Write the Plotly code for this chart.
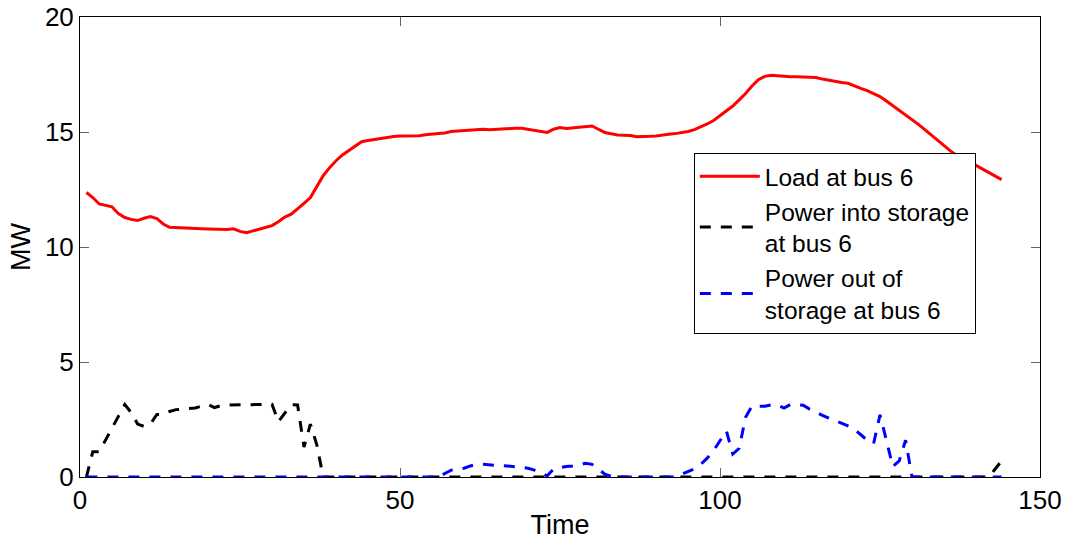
import plotly.graph_objects as go

time = list(range(1, 145))

load_bus6 = [
    12.37, 12.15, 11.87, 11.80, 11.75, 11.45, 11.28, 11.20, 11.15, 11.25,
    11.32, 11.24, 11.00, 10.86, 10.84, 10.82, 10.81, 10.80, 10.79, 10.78,
    10.77, 10.76, 10.76, 10.79, 10.68, 10.62, 10.70, 10.75, 10.83, 10.93,
    11.10, 11.30, 11.43, 11.65, 11.90, 12.15, 12.60, 13.10, 13.45, 13.75,
    14.00, 14.20, 14.40, 14.58, 14.63, 14.68, 14.72, 14.76, 14.80, 14.83,
    14.83, 14.83, 14.84, 14.88, 14.92, 14.93, 14.96, 15.02, 15.04, 15.06,
    15.08, 15.12, 15.12, 15.10, 15.12, 15.15, 15.16, 15.16, 15.16, 15.12,
    15.06, 15.02, 14.98, 15.12, 15.19, 15.15, 15.18, 15.22, 15.24, 15.26,
    15.12, 14.98, 14.92, 14.87, 14.86, 14.85, 14.79, 14.79, 14.81, 14.83,
    14.85, 14.90, 14.93, 14.97, 15.02, 15.10, 15.22, 15.35, 15.50, 15.70,
    15.90, 16.13, 16.40, 16.67, 17.00, 17.27, 17.42, 17.47, 17.45, 17.41,
    17.40, 17.40, 17.40, 17.40, 17.37, 17.30, 17.24, 17.20, 17.15, 17.12,
    17.00, 16.90, 16.80, 16.67, 16.54, 16.35, 16.15, 15.95, 15.75, 15.55,
    15.33, 15.10, 14.86, 14.64, 14.42, 14.18, 13.98, 13.85, 13.70, 13.55,
    13.40, 13.25, 13.08, 12.93,
]

power_into_storage = [
    0.00, 1.10, 1.10, 1.60, 2.10, 2.65, 3.15, 2.80, 2.30, 2.20,
    2.30, 2.72, 2.72, 2.85, 2.93, 2.95, 2.98, 3.00, 3.08, 3.15,
    3.02, 3.10, 3.13, 3.13, 3.13, 3.13, 3.13, 3.13, 3.13, 3.16,
    2.40, 2.80, 3.15, 3.13, 1.30, 2.30, 1.40, 0.00, 0.00, 0.00,
    0, 0, 0, 0, 0, 0, 0, 0, 0, 0,
    0, 0, 0, 0, 0, 0, 0, 0, 0, 0,
    0, 0, 0, 0, 0, 0, 0, 0, 0, 0,
    0, 0, 0, 0, 0, 0, 0, 0, 0, 0,
    0, 0, 0, 0, 0, 0, 0, 0, 0, 0,
    0, 0, 0, 0, 0, 0, 0, 0, 0, 0,
    0, 0, 0, 0, 0, 0, 0, 0, 0, 0,
    0, 0, 0, 0, 0, 0, 0, 0, 0, 0,
    0, 0, 0, 0, 0, 0, 0, 0, 0, 0,
    0, 0, 0, 0, 0, 0, 0, 0, 0, 0,
    0, 0, 0.35, 0.70,
]

power_out_of_storage = [
    0, 0, 0, 0, 0, 0, 0, 0, 0, 0,
    0, 0, 0, 0, 0, 0, 0, 0, 0, 0,
    0, 0, 0, 0, 0, 0, 0, 0, 0, 0,
    0, 0, 0, 0, 0, 0, 0, 0, 0, 0,
    0, 0, 0, 0, 0, 0, 0, 0, 0, 0,
    0, 0, 0, 0, 0, 0, 0.15, 0.30, 0.33, 0.38,
    0.48, 0.55, 0.55, 0.52, 0.50, 0.50, 0.48, 0.46, 0.42, 0.38,
    0.30, 0.18, 0.05, 0.35, 0.42, 0.46, 0.48, 0.52, 0.60, 0.55,
    0.35, 0.12, 0.03, 0, 0, 0, 0, 0, 0, 0,
    0, 0, 0, 0.12, 0.22, 0.35, 0.55, 0.82, 1.15, 1.55,
    2.00, 1.00, 1.25, 2.60, 3.08, 3.08, 3.08, 3.14, 3.12, 3.00,
    3.15, 3.14, 3.12, 2.95, 2.80, 2.68, 2.56, 2.45, 2.34, 2.22,
    2.08, 1.85, 1.60, 1.45, 2.70, 1.60, 0.45, 0.70, 1.60, 0.00,
    0, 0, 0, 0, 0, 0, 0, 0, 0, 0,
    0, 0, 0, 0,
]

series_names = [
    "Load at bus 6",
    "Power into storage<br>at bus 6",
    "Power out of<br>storage at bus 6",
]
x_ticks = [0, 50, 100, 150]
y_ticks = [0, 5, 10, 15, 20]

FONT = "Liberation Sans, Arial, Helvetica, sans-serif"

fig = go.Figure()
fig.add_trace(go.Scatter(x=time, y=load_bus6, mode="lines", name=series_names[0],
                         line=dict(color="#ff0000", width=3)))
fig.add_trace(go.Scatter(x=time, y=power_into_storage, mode="lines", name=series_names[1],
                         line=dict(color="#000000", width=3, dash="11px,10px")))
fig.add_trace(go.Scatter(x=time, y=power_out_of_storage, mode="lines", name=series_names[2],
                         line=dict(color="#0000ff", width=3, dash="11px,10px")))

axis_common = dict(
    showline=True, linecolor="black", linewidth=1, mirror="ticks",
    ticks="inside", ticklen=9, tickwidth=1, tickcolor="#666666",
    showgrid=False, zeroline=False, ticklabeloverflow="allow",
    automargin=False,
    tickfont=dict(family=FONT, size=26, color="black"),
)

fig.update_layout(
    width=1069, height=544,
    margin=dict(l=80, r=29, t=17, b=67),
    paper_bgcolor="white", plot_bgcolor="white",
    font=dict(family=FONT, size=26, color="black"),
    xaxis=dict(range=[0, 150], tickvals=x_ticks,
               title=dict(text="Time", font=dict(family=FONT, size=27), standoff=0),
               **axis_common),
    yaxis=dict(range=[0, 20], tickvals=y_ticks,
               title=dict(text="MW", font=dict(family=FONT, size=27), standoff=6),
               **axis_common),
    legend=dict(x=0.6394, y=0.705, xanchor="left", yanchor="top",
                bgcolor="white", bordercolor="black", borderwidth=1,
                font=dict(family=FONT, size=24.5, color="black"),
                itemwidth=60, tracegroupgap=0),
    showlegend=True,
)

fig.write_html("out.html")
